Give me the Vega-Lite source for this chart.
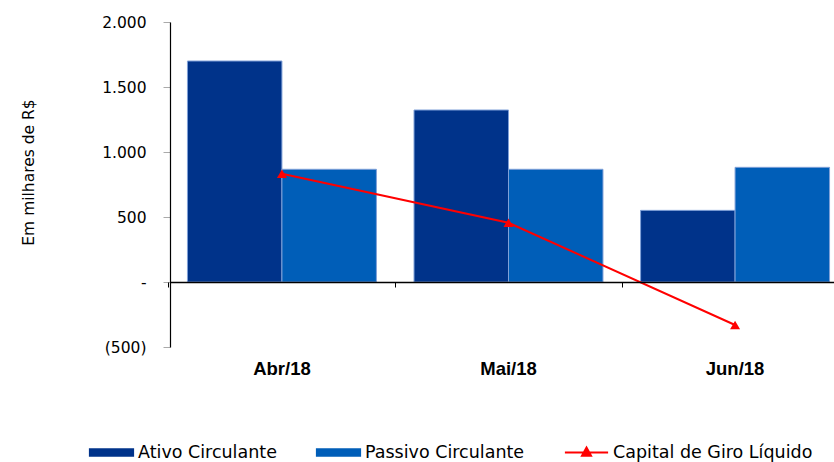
{
  "$schema": "https://vega.github.io/schema/vega-lite/v6.json",
  "width": 664,
  "height": 325,
  "autosize": {"type": "none"},
  "padding": {"left": 170, "top": 22, "right": 0, "bottom": 115},
  "background": "white",
  "config": {
    "view": {"stroke": null},
    "font": "DejaVu Sans",
    "axis": {"grid": false}
  },
  "data": {
    "values": [
      {"mes": "Abr/18", "serie": "Ativo Circulante", "valor": 1700},
      {"mes": "Abr/18", "serie": "Passivo Circulante", "valor": 867},
      {"mes": "Abr/18", "serie": "Capital de Giro Líquido", "valor": 833},
      {"mes": "Mai/18", "serie": "Ativo Circulante", "valor": 1323},
      {"mes": "Mai/18", "serie": "Passivo Circulante", "valor": 867},
      {"mes": "Mai/18", "serie": "Capital de Giro Líquido", "valor": 456},
      {"mes": "Jun/18", "serie": "Ativo Circulante", "valor": 551},
      {"mes": "Jun/18", "serie": "Passivo Circulante", "valor": 882},
      {"mes": "Jun/18", "serie": "Capital de Giro Líquido", "valor": -331}
    ]
  },
  "resolve": {"axis": {"x": "independent"}},
  "layer": [
    {
      "transform": [{"filter": "datum.serie != 'Capital de Giro Líquido'"}],
      "mark": {"type": "bar", "stroke": "#7fa0d8", "strokeWidth": 1},
      "encoding": {
        "x": {
          "field": "mes", "type": "nominal",
          "sort": ["Abr/18", "Mai/18", "Jun/18"],
          "scale": {"range": [0, 677], "paddingInner": 0.166, "paddingOuter": 0.077},
          "axis": {
            "orient": "bottom", "title": null, "domain": false, "ticks": false,
            "labelAngle": 0, "labelFont": "Liberation Sans", "labelFontSize": 18.5,
            "labelFontWeight": "bold", "labelColor": "#000", "labelPadding": 12
          }
        },
        "xOffset": {
          "field": "serie", "type": "nominal",
          "sort": ["Ativo Circulante", "Passivo Circulante"],
          "scale": {"paddingInner": 0, "paddingOuter": 0}
        },
        "y": {
          "field": "valor", "type": "quantitative",
          "scale": {"domain": [-500, 2000], "nice": false, "zero": false},
          "axis": {
            "values": [-500, 0, 500, 1000, 1500, 2000],
            "labelExpr": "datum.value == 0 ? '-' : (datum.value < 0 ? '(' + replace(format(-datum.value, ','), ',', '.') + ')' : replace(format(datum.value, ','), ',', '.'))",
            "title": "Em milhares de R$",
            "titleFont": "DejaVu Sans", "titleFontSize": 15.5, "titleFontWeight": "normal", "titleColor": "#000",
            "titleX": -134, "titleY": 150,
            "labelFont": "DejaVu Sans", "labelFontSize": 15.5, "labelColor": "#000", "labelPadding": 17,
            "tickColor": "#aaaaaa", "tickSize": 7, "domainColor": "#000", "domainWidth": 1.2
          }
        },
        "color": {
          "field": "serie", "type": "nominal",
          "scale": {
            "domain": ["Ativo Circulante", "Passivo Circulante", "Capital de Giro Líquido"],
            "range": ["#00338a", "#005eb8", "#ff0000"]
          },
          "legend": {
            "title": null, "orient": "none", "direction": "horizontal",
            "legendX": -82, "legendY": 407,
            "symbolSize": 2025, "columnPadding": 35, "labelOffset": 3, "labelLimit": 400,
            "labelFont": "DejaVu Sans", "labelFontSize": 17.5, "labelColor": "#000",
            "symbolOpacity": 1,
            "symbolType": {"expr": "datum.value == 'Capital de Giro Líquido' ? 'M-0.96,0H0.96M0,-0.22L0.2,0.14L-0.2,0.14Z' : 'M-0.96,-0.14H0.96V0.14H-0.96Z'"},
            "symbolStrokeColor": {"expr": "scale('color', datum.value)"},
            "symbolStrokeWidth": 2
          }
        }
      }
    },
    {
      "transform": [{"filter": "datum.serie == 'Capital de Giro Líquido'"}],
      "mark": {"type": "line", "color": "#ff0000", "strokeWidth": 2},
      "encoding": {
        "x": {
          "field": "mes", "type": "nominal",
          "sort": ["Abr/18", "Mai/18", "Jun/18"],
          "axis": {
            "orient": "bottom", "offset": -65, "title": null, "labels": false,
            "domain": true, "domainColor": "#000", "domainWidth": 1.5,
            "ticks": true, "bandPosition": -0.098, "tickSize": 5, "tickColor": "#000", "tickWidth": 1,
            "zindex": 1
          }
        },
        "y": {"field": "valor", "type": "quantitative"},
        "color": {"field": "serie", "type": "nominal", "legend": null}
      }
    },
    {
      "transform": [{"filter": "datum.serie == 'Capital de Giro Líquido'"}],
      "mark": {"type": "point", "shape": "triangle-up", "filled": true, "size": 100, "color": "#ff0000", "opacity": 1},
      "encoding": {
        "x": {"field": "mes", "type": "nominal", "sort": ["Abr/18", "Mai/18", "Jun/18"], "axis": null},
        "y": {"field": "valor", "type": "quantitative"},
        "color": {"field": "serie", "type": "nominal", "legend": null}
      }
    }
  ]
}
